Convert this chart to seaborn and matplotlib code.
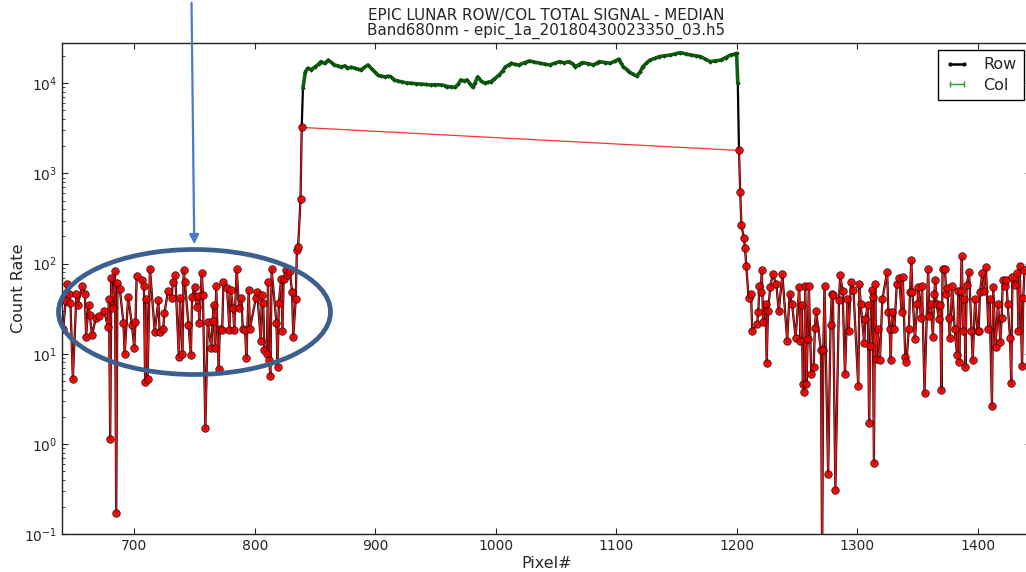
import matplotlib
matplotlib.use("Agg")
import matplotlib.pyplot as plt
import seaborn as sns
import pandas as pd
from matplotlib.patches import Ellipse, FancyArrowPatch
from matplotlib.lines import Line2D

TITLE = "EPIC LUNAR ROW/COL TOTAL SIGNAL - MEDIAN\nBand680nm - epic_1a_20180430023350_03.h5"
X_LABEL = "Pixel#"
Y_LABEL = "Count Rate"
LEGEND_LABELS = ["Row", "Col"]

# ---- background (off-moon) pixels, left side ----
bg_left_px = [641, 643, 644, 646, 647, 649, 652, 653, 657, 659, 660, 662, 663, 665, 668, 671,
              675, 678, 679, 680, 681, 682, 684, 685, 686, 688, 691, 692, 695, 698, 700, 701,
              702, 706, 708, 709, 710, 711, 713, 717, 720, 721, 724, 725, 728, 731, 732, 734,
              737, 738, 740, 741, 742, 745, 747, 748, 750, 752, 753, 754, 756, 757, 759, 761,
              764, 765, 766, 767, 768, 770, 771, 773, 774, 777, 779, 780, 782, 783, 785, 787,
              789, 790, 792, 793, 795, 796, 801, 802, 805, 806, 807, 808, 810, 811, 812, 813,
              814, 818, 819, 820, 822, 823, 824, 826, 827, 829, 831, 832, 834, 835, 836, 838, 839]
bg_left_val = [19, 38, 60, 46, 37, 5.3, 46, 35, 57, 46, 15.5, 35, 27, 16, 25, 26,
               30, 20, 40, 1.12, 70, 32, 83, 0.17, 61, 52, 22, 10, 43, 21, 11.5, 22.5,
               73, 65, 57, 4.9, 40, 5.2, 88, 17.5, 39, 17.5, 19, 28, 50, 41, 62, 74,
               9.2, 41, 10, 85, 62, 21, 9.6, 43, 55, 33, 44, 22, 79, 45, 1.5, 22.5,
               11.7, 23, 35, 11.7, 56, 6.8, 19, 18.5, 62, 54, 18.5, 51, 32, 18.5, 87, 32,
               42, 19, 18.5, 8.9, 51, 19, 42, 49, 14, 45, 37, 11, 10, 63, 8.6, 5.6,
               86, 22, 7.2, 37, 68, 18, 67, 85, 75, 83, 49, 15.5, 40, 140, 152, 520, 3240]

# ---- on-moon pixels (Row and Col coincide) ----
moon_px = [840, 842, 844, 847, 850, 853, 855, 858, 861, 864, 866, 869, 872, 875, 877, 880,
           883, 886, 888, 891, 894, 897, 900, 902, 905, 908, 911, 913, 916, 919, 922, 926,
           930, 934, 938, 942, 946, 950, 955, 958, 960, 963, 966, 969, 971, 974, 976, 979,
           981, 983, 985, 988, 991, 994, 996, 999, 1003, 1006, 1008, 1011, 1013, 1016, 1019,
           1024, 1028, 1032, 1037, 1041, 1045, 1049, 1053, 1057, 1061, 1064, 1066, 1069, 1072,
           1077, 1081, 1084, 1086, 1091, 1095, 1099, 1102, 1104, 1106, 1109, 1111, 1114, 1117,
           1120, 1122, 1125, 1128, 1132, 1136, 1140, 1145, 1149, 1153, 1158, 1162, 1166, 1170,
           1174, 1178, 1182, 1187, 1191, 1195, 1198, 1200, 1201]
moon_val = [8800, 13400, 14700, 14200, 15200, 16300, 17400, 16600, 18100, 16900, 16000, 15600,
            15200, 15600, 14700, 15100, 14700, 14300, 14100, 15000, 16000, 14500, 13200, 12400,
            12000, 11800, 12000, 11800, 10900, 10600, 10400, 10100, 10000, 9900, 9800, 9700,
            9600, 9650, 9600, 9400, 9200, 9150, 9000, 9800, 10900, 10600, 10900, 9800,
            9000, 10200, 11800, 10600, 10000, 10300, 10400, 11200, 12400, 13800, 15200, 16000,
            16700, 16200, 16000, 16900, 17700, 17200, 16700, 16300, 16000, 16700, 17400, 16900,
            17400, 16400, 15200, 16100, 17000, 16500, 16000, 16700, 17400, 17000, 16700, 17600,
            18500, 16900, 15200, 14200, 13400, 12600, 12000, 13400, 15200, 16700, 18100, 18900,
            19800, 20200, 20600, 21200, 21900, 21200, 20600, 20200, 19800, 18600, 17400, 17700,
            18100, 19300, 20600, 21000, 21500, 10000]

# ---- background (off-moon) pixels, right side ----
bg_right_px = [1202, 1203, 1204, 1206, 1207, 1208, 1210, 1212, 1213, 1217, 1218, 1219, 1220,
               1221, 1222, 1224, 1225, 1226, 1228, 1230, 1233, 1235, 1238, 1242, 1244, 1246,
               1249, 1252, 1253, 1254, 1255, 1256, 1257, 1258, 1259, 1260, 1262, 1264, 1265,
               1266, 1270, 1271, 1272, 1273, 1276, 1278, 1279, 1280, 1282, 1285, 1286, 1288,
               1290, 1292, 1293, 1295, 1297, 1301, 1302, 1303, 1306, 1307, 1309, 1310, 1311,
               1312, 1313, 1314, 1315, 1316, 1317, 1319, 1321, 1325, 1326, 1327, 1328, 1329,
               1331, 1333, 1335, 1337, 1338, 1340, 1341, 1343, 1344, 1345, 1346, 1348, 1350,
               1351, 1353, 1354, 1356, 1359, 1360, 1361, 1363, 1364, 1365, 1366, 1368, 1369,
               1370, 1371, 1373, 1374, 1375, 1376, 1377, 1379, 1381, 1383, 1384, 1385, 1386,
               1387, 1388, 1389, 1390, 1391, 1393, 1395, 1396, 1398, 1400, 1401, 1402, 1404,
               1405, 1407, 1409, 1410, 1412, 1413, 1415, 1417, 1419, 1420, 1421, 1423, 1424,
               1425, 1427, 1428, 1429, 1431, 1433, 1434, 1435, 1437, 1438, 1439]
bg_right_val = [1800, 615, 270, 192, 150, 95, 42, 46, 18, 21.5, 29, 57, 48,
                85, 22.5, 36, 7.9, 29.5, 55, 76, 59, 29.5, 76, 14, 46, 36,
                15, 55, 14, 35, 4.6, 3.8, 57, 4.6, 14.7, 56, 5.9, 7.2, 19.5,
                30, 11, 0.05, 11, 57, 0.46, 21, 46, 45, 0.31, 39, 74, 50,
                5.9, 40, 17.8, 62, 51, 4.4, 59, 36, 13, 24.5, 35, 1.7, 12.3,
                51, 43, 0.62, 60, 8.8, 19, 8.6, 40, 81, 29, 19, 8.6, 29,
                19, 60, 69, 29, 71, 9.1, 8.1, 19, 49, 110, 49, 14.4, 36,
                55, 25, 56, 3.7, 87, 26, 36, 15.5, 46, 65, 36, 24, 35,
                4.0, 87, 88, 46, 54, 25, 15, 57, 19, 9.6, 50, 8.1, 50,
                120, 18, 40, 7.2, 58, 81, 18, 8.6, 40, 18, 18, 48, 79,
                50, 91, 19, 40, 2.6, 55, 12, 36, 13.5, 25, 65, 57, 65,
                36, 15, 4.7, 71, 58, 78, 18, 95, 7.3, 42, 85]

row_df = pd.DataFrame({"px": bg_left_px + moon_px + bg_right_px,
                       "val": bg_left_val + moon_val + bg_right_val})
col_df = pd.DataFrame({"px": moon_px, "val": moon_val})
low_df = pd.DataFrame({"px": bg_left_px + bg_right_px, "val": bg_left_val + bg_right_val})

sns.set_style("ticks", {
    "xtick.direction": "in", "ytick.direction": "in",
    "axes.edgecolor": "#222222",
})
plt.rcParams["font.family"] = ["DejaVu Sans"]
plt.rcParams.update({
    "xtick.top": True, "ytick.right": True,
    "xtick.major.size": 4, "ytick.major.size": 4,
    "xtick.minor.size": 2, "ytick.minor.size": 2,
    "xtick.labelsize": 10, "ytick.labelsize": 10,
    "axes.linewidth": 1.0,
})

fig = plt.figure(figsize=(10.26, 5.72), dpi=100)
ax = fig.add_axes([62 / 1026, 38 / 572, 969 / 1026, 491 / 572])

sns.lineplot(data=row_df, x="px", y="val", ax=ax, color="black", lw=1.6,
             marker=".", markersize=3, markeredgecolor="black",
             estimator=None, sort=False, legend=False)
sns.lineplot(data=col_df, x="px", y="val", ax=ax, color="#0f600f", lw=2.6,
             marker="+", markersize=3, markeredgecolor="#0a4a0a",
             estimator=None, sort=False, legend=False)
sns.lineplot(data=low_df, x="px", y="val", ax=ax, color="#ff1a1a", lw=0.9, alpha=0.9,
             marker="o", markersize=5.4, markerfacecolor="#ee0000",
             markeredgecolor="#3a0000", markeredgewidth=0.6,
             estimator=None, sort=False, legend=False)

ax.set_yscale("log")
ax.set_xlim(640, 1444.4)
ax.set_ylim(0.1, 28000)
ax.set_xticks([700, 800, 900, 1000, 1100, 1200, 1300, 1400])
ax.set_xlabel(X_LABEL, fontsize=11.5, labelpad=2)
ax.set_ylabel(Y_LABEL, fontsize=11.5)
ax.yaxis.set_label_coords(-0.037, 0.5)
ax.set_title(TITLE, fontsize=10.9, linespacing=0.98, pad=6)

handles = [Line2D([], [], color="black", lw=1.8, marker=".", markersize=4),
           Line2D([], [], color="#2a9a2a", lw=1.0, marker="|", markersize=4)]
leg = ax.legend(handles, LEGEND_LABELS, loc="upper right",
                bbox_to_anchor=(1024 / 1026, 1 - 50 / 572), bbox_transform=fig.transFigure,
                borderaxespad=0, fontsize=11.5, numpoints=2, fancybox=False,
                framealpha=1, edgecolor="black", handlelength=1.5, handletextpad=0.9,
                borderpad=0.45, labelspacing=0.35)
leg.get_frame().set_linewidth(1.0)

# annotation: ellipse and arrow (figure pixel coordinates)
W, H = 1026, 572
fig.add_artist(Ellipse((194.5 / W, 1 - 312 / H), 272 / W, 125 / H,
                       transform=fig.transFigure, fill=False,
                       edgecolor="#3c5f8d", lw=3.4, zorder=10))
fig.add_artist(FancyArrowPatch((191.5 / W, 1.0), (194.3 / W, 1 - 247 / H),
                               transform=fig.transFigure, arrowstyle="-|>",
                               mutation_scale=14, color="#4a7cc4", lw=1.6, zorder=10))

fig.savefig("out.png", dpi=100)
